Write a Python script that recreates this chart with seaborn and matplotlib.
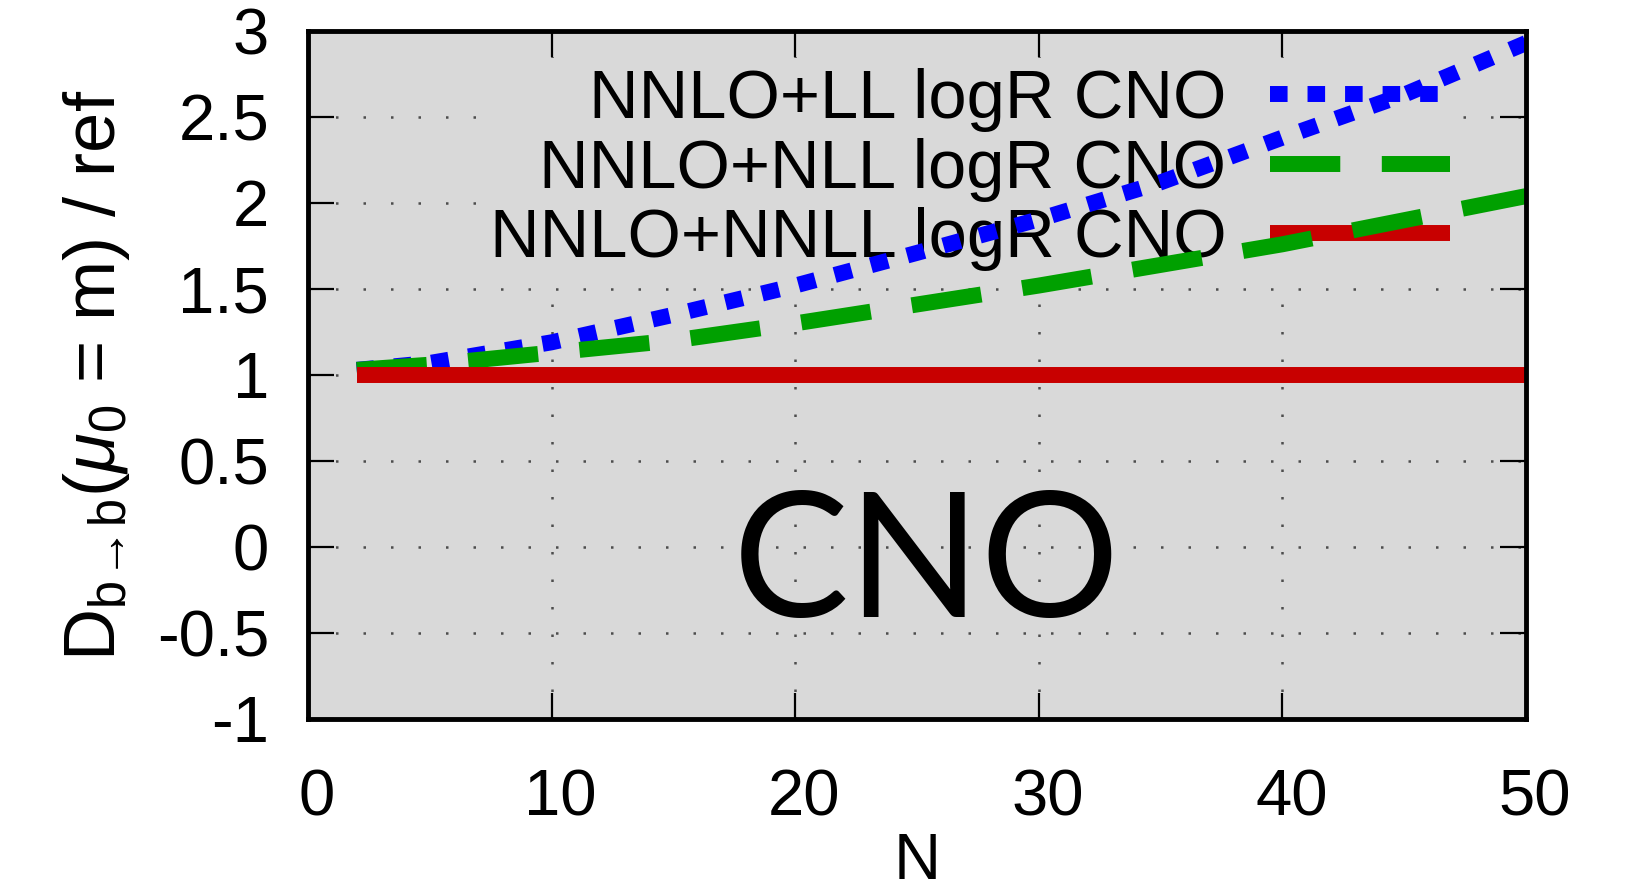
import numpy as np
import pandas as pd
import matplotlib
matplotlib.use("Agg")
import matplotlib.pyplot as plt
import matplotlib.transforms as mtransforms
import seaborn as sns

# Ratio D_{b->b}(mu0 = m) / ref versus Mellin moment N
n_vals = [2, 5, 10, 15, 20, 25, 30, 35, 40, 45, 50]
ll_vals = [1.03, 1.07, 1.19, 1.35, 1.52, 1.71, 1.905, 2.12, 2.38, 2.63, 2.93]
nll_vals = [1.03, 1.06, 1.13, 1.20, 1.30, 1.41, 1.52, 1.64, 1.76, 1.90, 2.04]
nnll_vals = [1.0, 1.0, 1.0, 1.0, 1.0, 1.0, 1.0, 1.0, 1.0, 1.0, 1.0]

labels = ["NNLO+LL logR CNO", "NNLO+NLL logR CNO", "NNLO+NNLL logR CNO"]
colors = ["#0000ff", "#00a000", "#c80000"]
styles = [(0, (1.1, 1.25)), (0, (4.4, 2.6)), "-"]

x_ticks = [0, 10, 20, 30, 40, 50]
y_ticks = [-1, -0.5, 0, 0.5, 1, 1.5, 2, 2.5, 3]
y_tick_labels = ["-1", "-0.5", "0", "0.5", "1", "1.5", "2", "2.5", "3"]

sns.set_theme(style="ticks")
plt.rcParams["font.family"] = ["Liberation Sans", "DejaVu Sans"]
plt.rcParams["text.color"] = "black"
plt.rcParams["axes.labelcolor"] = "black"
plt.rcParams["xtick.color"] = "black"
plt.rcParams["ytick.color"] = "black"
plt.rcParams["mathtext.fontset"] = "custom"
plt.rcParams["mathtext.rm"] = "Liberation Sans"
plt.rcParams["mathtext.it"] = "Liberation Sans:italic"
plt.rcParams["lines.dash_capstyle"] = "butt"
plt.rcParams["lines.solid_capstyle"] = "butt"

W, H = 1630, 893
fig = plt.figure(figsize=(W / 100, H / 100), dpi=100)
ax = fig.add_axes([308 / W, 1 - 719 / H, 1218 / W, 688 / H])
ax.set_facecolor("#d9d9d9")

df = pd.DataFrame({"N": n_vals, labels[0]: ll_vals,
                   labels[1]: nll_vals, labels[2]: nnll_vals})
for lab, col, ls in zip(labels, colors, styles):
    sns.lineplot(data=df, x="N", y=lab, ax=ax, color=col, linestyle=ls,
                 linewidth=11.5, label=lab, zorder=3)

ax.set_xlim(0, 50)
ax.set_ylim(-1, 3)
ax.set_xticks(x_ticks)
ax.set_xticklabels([str(t) for t in x_ticks])
ax.set_yticks(y_ticks)
ax.set_yticklabels(y_tick_labels)

ax.set_axisbelow(True)
ax.grid(True, color="#4d4d4d", linestyle=(0, (1, 10)), linewidth=1.8)

for sp in ax.spines.values():
    sp.set_visible(True)
    sp.set_linewidth(3.5)
    sp.set_color("black")
    sp.set_zorder(5)

ax.tick_params(axis="both", which="major", direction="in", length=19,
               width=1.6, color="black", top=True, right=True,
               labelsize=47, labelcolor="black")
ax.tick_params(axis="x", pad=36)
ax.tick_params(axis="y", pad=28)

# x tick numbers sit slightly right of their ticks
shift = mtransforms.ScaledTranslation(9 / 100, 0, fig.dpi_scale_trans)
for lbl in ax.get_xticklabels():
    lbl.set_transform(lbl.get_transform() + shift)

ax.set_xlabel("N", fontsize=47, labelpad=2)
ax.set_ylabel(r"D$_\mathrm{b\!\rightarrow\!b}$($\mu_0$ = m) / ref",
              fontsize=52, labelpad=18)

leg = ax.legend(loc="upper right", bbox_to_anchor=(0.9458, 0.961),
                markerfirst=False, fontsize=49.5, handlelength=2.62,
                handletextpad=0.63, labelspacing=0.08, borderpad=0.15,
                borderaxespad=0, frameon=True, fancybox=False)
leg.get_frame().set_facecolor("#d9d9d9")
leg.get_frame().set_edgecolor("none")
leg.get_frame().set_alpha(1.0)
leg.set_zorder(2)
for t in leg.get_texts():
    t.set_color("black")

ax.text(25.4, -0.407, "CNO", ha="center", va="baseline", fontsize=125,
        family="Lato", color="black", zorder=4)

fig.savefig("out.png", dpi=100)
